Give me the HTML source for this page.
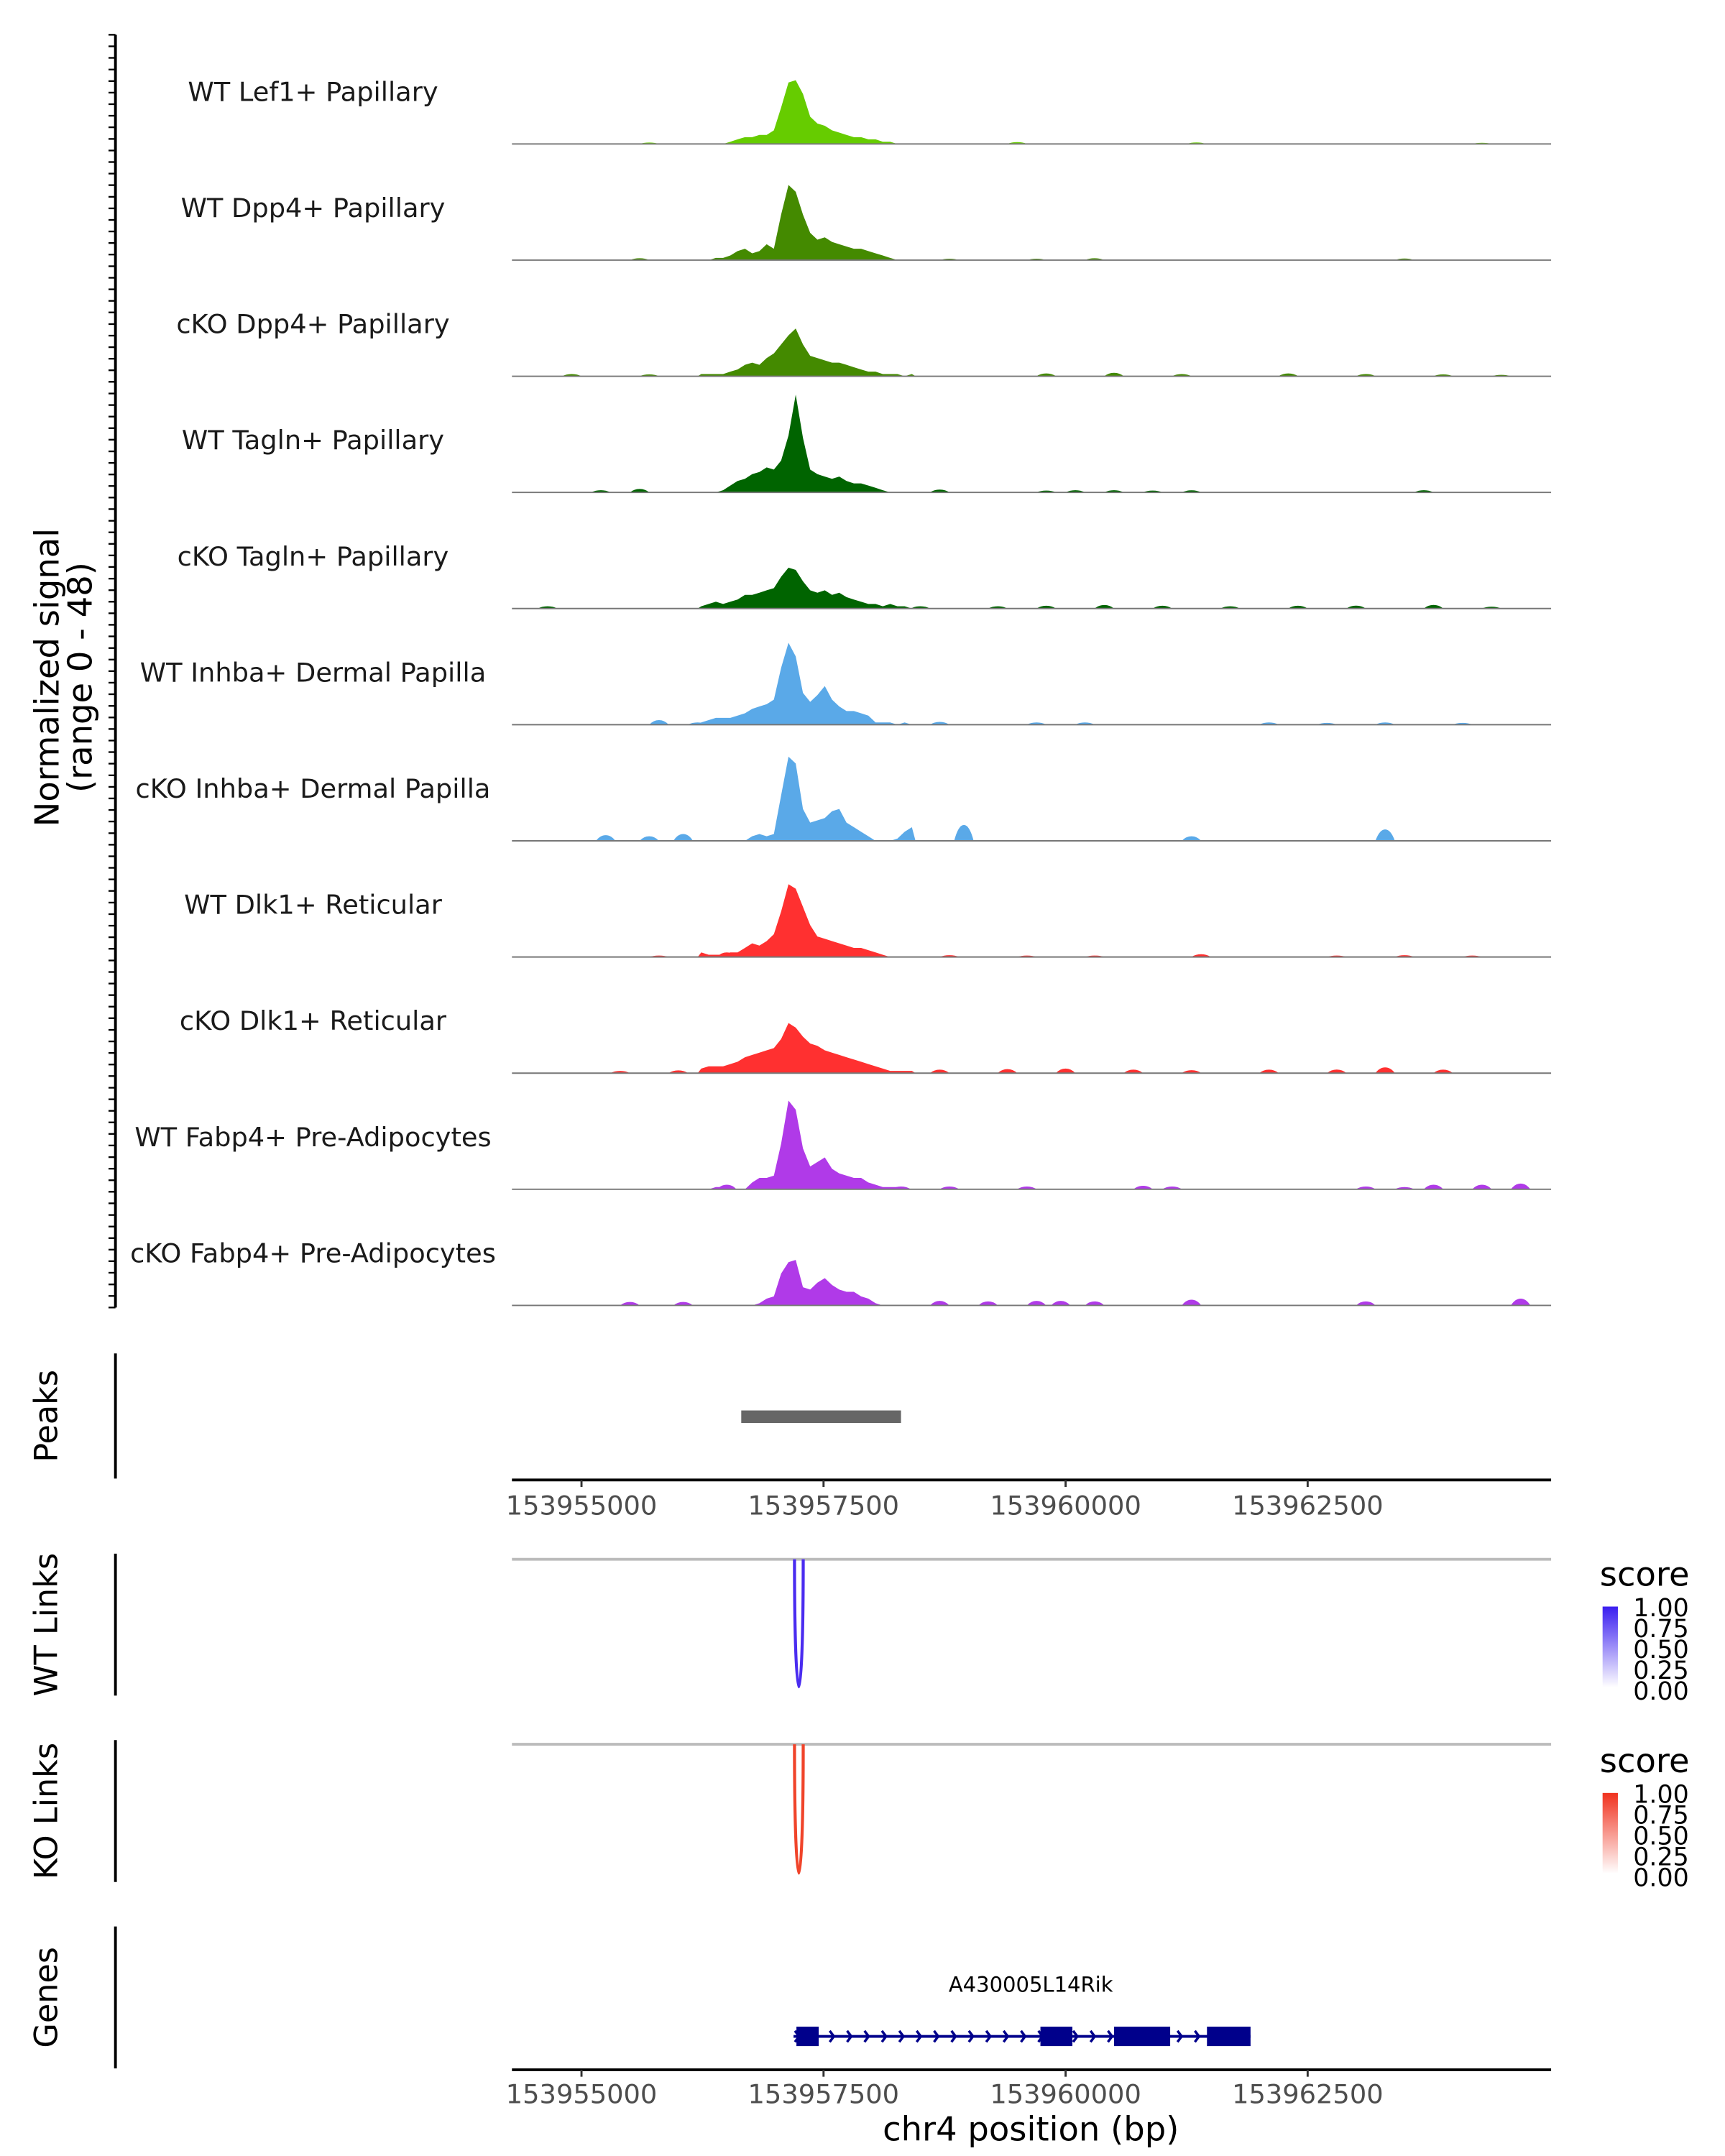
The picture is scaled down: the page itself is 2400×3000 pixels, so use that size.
<!DOCTYPE html>
<html><head><meta charset="utf-8"><style>
html,body{margin:0;padding:0;background:#fff}
svg{display:block;font-family:"DejaVu Sans","Liberation Sans",sans-serif}
</style></head><body>
<svg id="chart" width="2400" height="3000" viewBox="0 0 1240 1550" xmlns="http://www.w3.org/2000/svg">
<g id="tracks"></g>
<g id="fixed">
  <line x1="83" y1="25" x2="83" y2="940" stroke="#000" stroke-width="2"/>
  <text transform="translate(42,487) rotate(-90)" text-anchor="middle" font-size="24" fill="#000">Normalized signal</text>
  <text transform="translate(66,487) rotate(-90)" text-anchor="middle" font-size="24" fill="#000">(range 0 - 48)</text>
  <line x1="83" y1="973" x2="83" y2="1063" stroke="#000" stroke-width="2"/>
  <text transform="translate(41,1018) rotate(-90)" text-anchor="middle" font-size="23">Peaks</text>
  <line x1="368" y1="1064" x2="1115" y2="1064" stroke="#000" stroke-width="2"/>
  <g id="ticks1"></g>
  <g id="peakbars"></g>
  <line x1="83" y1="1117" x2="83" y2="1219" stroke="#000" stroke-width="2"/>
  <text transform="translate(41,1168) rotate(-90)" text-anchor="middle" font-size="23">WT Links</text>
  <line x1="368" y1="1121" x2="1115" y2="1121" stroke="#bbb" stroke-width="2"/>
  <g id="wtlinks"></g>
  <line x1="83" y1="1251" x2="83" y2="1353" stroke="#000" stroke-width="2"/>
  <text transform="translate(41,1302) rotate(-90)" text-anchor="middle" font-size="23">KO Links</text>
  <line x1="368" y1="1254" x2="1115" y2="1254" stroke="#bbb" stroke-width="2"/>
  <g id="kolinks"></g>
  <defs>
    <linearGradient id="gb" x1="0" y1="1" x2="0" y2="0"><stop offset="0" stop-color="#ffffff"/><stop offset="1" stop-color="#3a1ef0"/></linearGradient>
    <linearGradient id="gr" x1="0" y1="1" x2="0" y2="0"><stop offset="0" stop-color="#ffffff"/><stop offset="1" stop-color="#f0321e"/></linearGradient>
  </defs>
  <g>
    <text x="1150" y="1140" font-size="24">score</text>
    <rect x="1152" y="1155" width="11" height="58" fill="url(#gb)"/>
    <g font-size="18" fill="#000"><text x="1174" y="1162">1.00</text><text x="1174" y="1177">0.75</text><text x="1174" y="1192">0.50</text><text x="1174" y="1207">0.25</text><text x="1174" y="1222">0.00</text></g>
  </g>
  <g>
    <text x="1150" y="1274" font-size="24">score</text>
    <rect x="1152" y="1289" width="11" height="58" fill="url(#gr)"/>
    <g font-size="18" fill="#000"><text x="1174" y="1296">1.00</text><text x="1174" y="1311">0.75</text><text x="1174" y="1326">0.50</text><text x="1174" y="1341">0.25</text><text x="1174" y="1356">0.00</text></g>
  </g>
  <line x1="83" y1="1385" x2="83" y2="1487" stroke="#000" stroke-width="2"/>
  <text transform="translate(41,1436) rotate(-90)" text-anchor="middle" font-size="23">Genes</text>
  <g id="genes"></g>
  <line x1="368" y1="1488" x2="1115" y2="1488" stroke="#000" stroke-width="2"/>
  <g id="ticks2"></g>
  <text x="741" y="1539" text-anchor="middle" font-size="24">chr4 position (bp)</text>
</g>
</svg>
<script>
const trackNames = ["WT Lef1+ Papillary","WT Dpp4+ Papillary","cKO Dpp4+ Papillary","WT Tagln+ Papillary","cKO Tagln+ Papillary","WT Inhba+ Dermal Papilla","cKO Inhba+ Dermal Papilla","WT Dlk1+ Reticular","cKO Dlk1+ Reticular","WT Fabp4+ Pre-Adipocytes","cKO Fabp4+ Pre-Adipocytes"];
const trackColors = ["#66cc00","#448a00","#448a00","#006400","#006400","#5aa9e8","#5aa9e8","#ff3030","#ff3030","#b03ae8","#b03ae8"];
const coreStart = 153956200;
const coreBin = 75;
const core0 = [0,0,0,0,1,2,3,3,4,4,6,16,27,28,22,12,9,8,6,5,4,3,3,2,2,1,1,0,0,0];
const core1 = [0,0,1,1,2,4,5,3,4,7,5,20,33,30,20,12,9,10,8,7,6,5,5,4,3,2,1,0,0,0];
const core2 = [1,1,1,1,2,3,5,6,5,8,10,14,18,21,14,9,8,7,6,6,5,4,3,2,2,1,1,1,0,1];
const core3 = [0,0,0,1,3,5,6,8,9,11,10,14,25,43,24,10,8,7,6,7,5,4,4,3,2,1,0,0,0,0];
const core4 = [1,2,3,2,3,4,6,6,7,8,9,14,18,17,12,8,7,8,6,7,5,4,3,2,2,1,2,1,1,0];
const core5 = [1,2,3,3,3,4,5,7,8,9,11,25,36,30,14,10,13,17,11,8,6,6,5,4,1,1,1,0,1,0];
const core6 = [0,0,0,0,0,0,0,2,3,2,3,20,37,34,14,8,9,10,13,14,8,6,4,2,0,0,0,1,4,6];
const core7 = [2,1,1,1,2,2,4,6,5,7,10,20,32,30,22,14,9,8,7,6,5,4,4,3,2,1,0,0,0,0];
const core8 = [2,3,3,3,4,5,7,8,9,10,11,15,22,20,16,13,12,10,9,8,7,6,5,4,3,2,1,1,1,1];
const core9 = [0,0,1,1,1,0,0,3,5,5,6,20,39,35,18,10,12,14,9,7,6,5,5,3,2,1,1,1,0,0];
const core10 = [0,0,0,0,0,0,0,0,1,3,4,14,19,20,8,7,10,12,9,7,6,6,4,3,1,0,0,0,0,0];
const cores = [core0,core1,core2,core3,core4,core5,core6,core7,core8,core9,core10];
const bumpPos0 = [153955700,153959500,153961350,153964300];
const bumpH0 = [0.6,0.8,0.7,0.5];
const bumpPos1 = [153955600,153958800,153959700,153960300,153963500];
const bumpH1 = [0.8,0.6,0.6,0.8,0.7];
const bumpPos2 = [153954900,153955700,153959800,153960500,153961200,153962300,153963100,153963900,153964500];
const bumpH2 = [1,0.8,1.2,1.5,1,1.2,1,0.8,0.6];
const bumpPos3 = [153955200,153955600,153958700,153959800,153960100,153960500,153960900,153961300,153963700];
const bumpH3 = [1,1.5,1.2,0.8,1,1,0.8,0.9,1];
const bumpPos4 = [153954650,153958000,153958500,153959300,153959800,153960400,153961000,153961700,153962400,153963000,153963800,153964400];
const bumpH4 = [1,1.5,1,1,1.2,1.5,1.2,1,1.2,1.3,1.6,0.8];
const bumpPos5 = [153955800,153956200,153958700,153959700,153960200,153962100,153962700,153963300,153964100];
const bumpH5 = [2,1,1.2,1,1,1,0.8,1,0.8];
const bumpPos6 = [153955250,153955700,153956050,153958950,153961300,153963300];
const bumpH6 = [2.5,2,3,7,2,5];
const bumpPos7 = [153955800,153956500,153958800,153959600,153960300,153961400,153962800,153963500,153964200];
const bumpH7 = [0.6,2,0.8,0.6,0.6,1.2,0.6,0.8,0.6];
const bumpPos8 = [153955400,153956000,153958700,153959400,153960000,153960700,153961300,153962100,153962800,153963300,153963900];
const bumpH8 = [1,1.2,1.5,1.8,2,1.5,1.3,1.5,1.6,2.5,1.5];
const bumpPos9 = [153956500,153958300,153958800,153959600,153960800,153961100,153963100,153963500,153963800,153964300,153964700];
const bumpH9 = [2,1.2,1.2,1.2,1.5,1.2,1.2,1,2,2,2.5];
const bumpPos10 = [153955500,153956050,153958700,153959200,153959700,153959950,153960300,153961300,153963100,153964700];
const bumpH10 = [1.5,1.5,2,1.8,2,2,1.8,2.5,1.8,3];
const bumpPos = [bumpPos0,bumpPos1,bumpPos2,bumpPos3,bumpPos4,bumpPos5,bumpPos6,bumpPos7,bumpPos8,bumpPos9,bumpPos10];
const bumpH = [bumpH0,bumpH1,bumpH2,bumpH3,bumpH4,bumpH5,bumpH6,bumpH7,bumpH8,bumpH9,bumpH10];
const tickValues = [153955000,153957500,153960000,153962500];
const peakStarts = [153956650];
const peakEnds = [153958300];
const linkStart = [153957200];
const linkEnd = [153957290];
const linkScore = [1.0];
const geneStart = 153957190;
const geneEnd = 153961910;
const exonStarts = [153957220,153959740,153960500,153961460];
const exonEnds = [153957450,153960070,153961080,153961910];
const geneName = "A430005L14Rik";

const NS = "http://www.w3.org/2000/svg";
const X0 = 368, X1 = 1115;
const refBp = 153957500, refX = 592, pxPerBp = 0.0696;
const x = bp => refX + (bp - refBp) * pxPerBp;
const trackTop = 25, trackH = 83.5, maxVal = 48;
const baseY = i => trackTop + trackH * (i + 1) - 5;
const yv = (i, v) => baseY(i) - v / maxVal * (trackH - 5);
function mk(tag, attrs, parent){const e=document.createElementNS(NS,tag);for(const k in attrs)e.setAttribute(k,attrs[k]);parent.appendChild(e);return e;}

const tracksG = document.getElementById('tracks');
for (let i = 0; i < trackNames.length; i++) {
  const g = mk('g', {}, tracksG);
  
  
  const lab = mk('text', {x:225, y:baseY(i)-31, 'text-anchor':'middle', 'font-size':'19', fill:'#1a1a1a'}, g);
  lab.textContent = trackNames[i];
  
  
  let d = 'M' + x(coreStart) + ',' + baseY(i);
  cores[i].forEach((v, k) => {
    const c = coreStart + coreBin * (k + 0.5);
    d += ' L' + x(c).toFixed(1) + ',' + yv(i, v).toFixed(1);
  });
  d += ' L' + x(coreStart + coreBin * cores[i].length) + ',' + baseY(i) + ' Z';
  const area = mk('path', {d:d, fill:trackColors[i]}, g);
  
  
  bumpPos[i].forEach((p, k) => {
    const h = bumpH[i][k];
    const bd = 'M' + (x(p)-7).toFixed(1) + ',' + baseY(i) + ' Q' + (x(p)-4).toFixed(1) + ',' + yv(i,h).toFixed(1) + ' ' + x(p).toFixed(1) + ',' + yv(i,h).toFixed(1) + ' Q' + (x(p)+4).toFixed(1) + ',' + yv(i,h).toFixed(1) + ' ' + (x(p)+7).toFixed(1) + ',' + baseY(i) + ' Z';
    const b = mk('path', {d:bd, fill:trackColors[i]}, g);
    
    
  });
  const bl = mk('line', {x1:X0, x2:X1, y1:baseY(i), y2:baseY(i), stroke:'#777', 'stroke-width':1}, g);
  
  
}
const fixedG = document.getElementById('fixed');
for (let t = 0; t <= 110; t++) {
  const yy = trackTop + t * (915/110);
  const tk = mk('line', {x1:78, x2:83, y1:yy.toFixed(1), y2:yy.toFixed(1), stroke:'#000', 'stroke-width':1.2}, fixedG);
  
  
}
[['ticks1',1064,1089],['ticks2',1488,1512]].forEach(([id, ay, ty]) => {
  const g = document.getElementById(id);
  tickValues.forEach(v => {
    const l = mk('line', {x1:x(v), x2:x(v), y1:ay, y2:ay+5, stroke:'#333', 'stroke-width':1.5}, g);
    
    
    const t = mk('text', {x:x(v), y:ty, 'text-anchor':'middle', 'font-size':'19', fill:'#4d4d4d'}, g);
    t.textContent = v;
    
    
  });
});
const pg = document.getElementById('peakbars');
peakStarts.forEach((s, k) => {
  const r = mk('rect', {x:x(s), y:1014, width:x(peakEnds[k])-x(s), height:9, fill:'#666'}, pg);
  
  
});
function links(id, top, bottom, color){
  const g = document.getElementById(id);
  linkStart.forEach((s, k) => {
    const a = x(s), b = x(linkEnd[k]);
    const depth = (bottom - top) * linkScore[k];
    const d = 'M' + a + ',' + top + ' C' + a + ',' + (top+depth*1.3) + ' ' + b + ',' + (top+depth*1.3) + ' ' + b + ',' + top;
    const p = mk('path', {d:d, fill:'none', stroke:color, 'stroke-width':2.2}, g);
    
    
  });
}
links('wtlinks', 1121, 1215, '#4a2cf0');
links('kolinks', 1254, 1349, '#f0442a');
const gg = document.getElementById('genes');
const gy = 1464;
const gl = mk('line', {x1:x(geneStart), x2:x(geneEnd), y1:gy, y2:gy, stroke:'#00008b', 'stroke-width':2}, gg);


for (let p = x(geneStart) + 4; p < x(geneEnd); p += 12.5) {
  const a = mk('path', {d:'M'+(p-3)+','+(gy-4)+' L'+p+','+gy+' L'+(p-3)+','+(gy+4), fill:'none', stroke:'#00008b', 'stroke-width':1.8}, gg);
  
  
}
exonStarts.forEach((s, k) => {
  const r = mk('rect', {x:x(s), y:gy-7, width:x(exonEnds[k])-x(s), height:14, fill:'#00008b'}, gg);
  
  
});
const gn = mk('text', {x:741, y:1432, 'text-anchor':'middle', 'font-size':'15', fill:'#000'}, gg);
gn.textContent = geneName;


</script>
</body></html>
